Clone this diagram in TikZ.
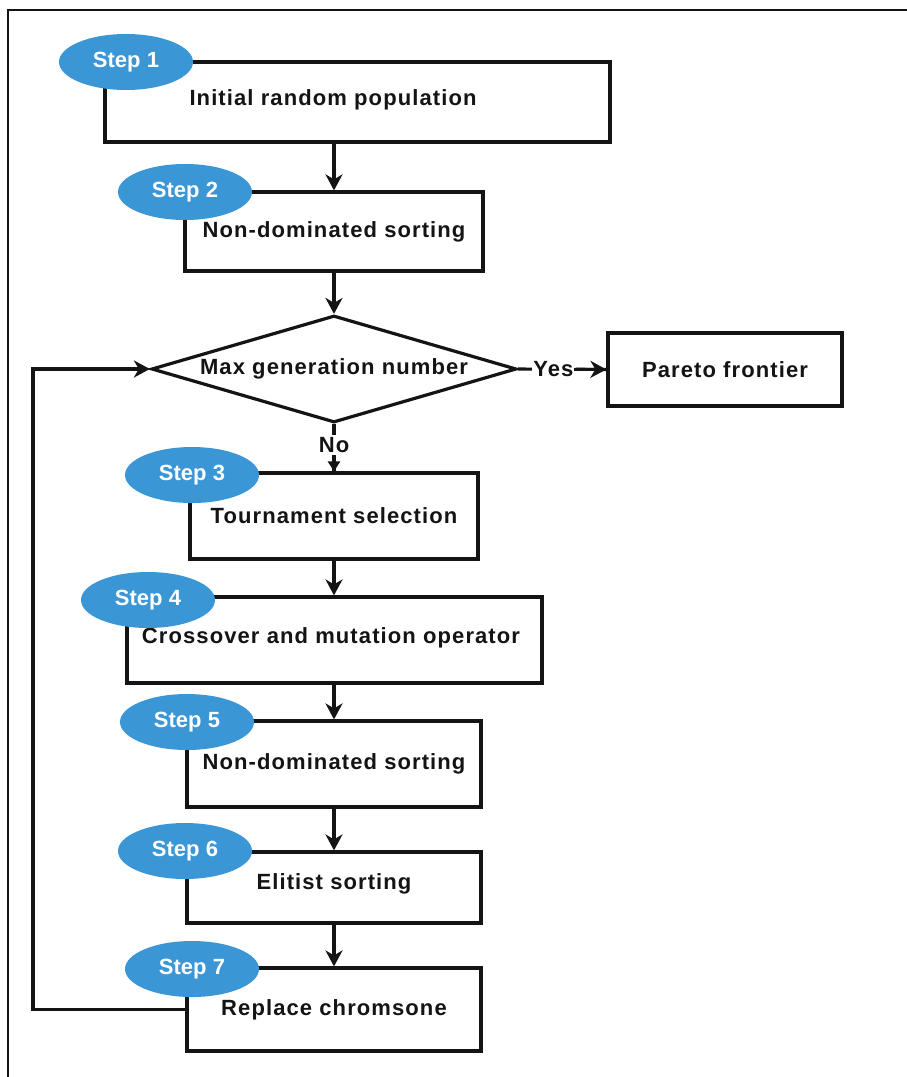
\documentclass[tikz,border=0pt]{standalone}
\usepackage{fontspec}
\setmainfont{Liberation Sans}
\newfontfamily\lblfont[LetterSpace=5]{Liberation Sans}
\usetikzlibrary{shapes.geometric,arrows.meta}
\definecolor{stepblue}{RGB}{58,150,212}
\definecolor{ink}{RGB}{20,20,20}
\tikzset{
  x=1pt, y=-1pt,
  procbox/.style={draw=ink, line width=3.2pt, rectangle, inner sep=0pt},
  lbl/.style={font=\lblfont\bfseries\fontsize{22}{26}\selectfont, text=ink, inner sep=1pt},
  stepoval/.style={ellipse, fill=stepblue, draw=none, minimum width=134pt, minimum height=56pt, inner sep=0pt,
     font=\bfseries\fontsize{22}{26}\selectfont, text=white},
  flow/.style={draw=ink, line width=3.1pt, -{Stealth[length=16pt,width=17pt,inset=5pt]}},
  plain/.style={draw=ink, line width=3.1pt},
}
\begin{document}
\begin{tikzpicture}
\useasboundingbox (0,0) rectangle (907,1077);
\fill[white] (0,0) rectangle (907,1077);
% outer frame (left and top visible)
\coordinate (fbl) at (8,1077);
\coordinate (ftl) at (8,10);
\coordinate (ftr) at (907,10);
\draw[line width=2.2pt, draw=ink] (fbl) -- (ftl) -- (ftr);

% boxes
\node[procbox, minimum width=505pt, minimum height=80pt] (b1) at (357.5,102) {};
\node[lbl] (t1) at (333,100) {Initial random population};
\node[procbox, minimum width=298pt, minimum height=79pt, lbl] (b2) at (334,231.5) {Non-dominated sorting};
\node[diamond, draw=ink, line width=3.2pt, minimum width=365pt, minimum height=107pt, inner sep=0pt] (dec) at (334,369) {};
\node[lbl] (tdec) at (dec.center) {Max generation number};
\node[procbox, minimum width=234pt, minimum height=73pt, lbl] (par) at (725,369.5) {Pareto frontier};
\node[procbox, minimum width=288pt, minimum height=86pt, lbl] (b3) at (334,516) {Tournament selection};
\node[procbox, minimum width=415pt, minimum height=86pt] (b4) at (334.5,640) {};
\node[lbl] (t4) at (331,638) {Crossover and mutation operator};
\node[procbox, minimum width=294pt, minimum height=86pt, lbl] (b5) at (334,764) {Non-dominated sorting};
\node[procbox, minimum width=294pt, minimum height=71pt] (b6) at (334,887.5) {};
\node[lbl] (t6) at (334,884) {Elitist sorting};
\node[procbox, minimum width=294pt, minimum height=83pt, lbl] (b7) at (334,1009.5) {Replace chromsone};

% connectors
\draw[flow] (b1.south -| b2.north) -- (b2.north);
\draw[flow] (b2.south) -- (dec.north);
\draw[plain] (dec.east) -- node[pos=0.4, fill=white, lbl, inner sep=1pt] (yes) {Yes} (par.west);
\draw[flow] (yes.east) -- (par.west);
\draw[plain] (dec.south) -- node[pos=0.44, fill=white, lbl, inner sep=2pt] (no) {No} (b3.north);
\draw[draw=ink, line width=2.8pt, -{Triangle[length=10pt,width=12pt]}] (no.south) -- (b3.north);
\draw[flow] (b3.south) -- (b4.north -| b3.south);
\draw[flow] (b4.south -| b5.north) -- (b5.north);
\draw[flow] (b5.south) -- (b6.north);
\draw[flow] (b6.south) -- (b7.north);
\coordinate (fbk) at (33,369);
\draw[flow] (b7.west) -| (fbk) -- (dec.west);

% step ovals
\node[stepoval] (s1) at (126,62) {Step 1};
\node[stepoval] (s2) at (185,192) {Step 2};
\node[stepoval] (s3) at (192,475) {Step 3};
\node[stepoval] (s4) at (148,600) {Step 4};
\node[stepoval] (s5) at (187,722) {Step 5};
\node[stepoval] (s6) at (185,851) {Step 6};
\node[stepoval] (s7) at (192,969) {Step 7};
\end{tikzpicture}
\end{document}
